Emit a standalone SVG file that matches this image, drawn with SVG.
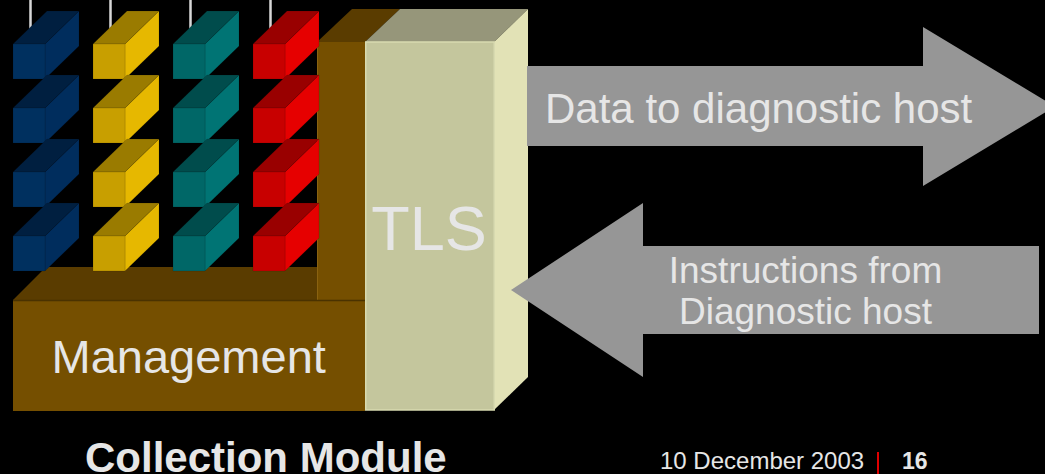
<svg xmlns="http://www.w3.org/2000/svg" xmlns:xlink="http://www.w3.org/1999/xlink" width="1045" height="474" viewBox="0 0 1045 474">
  <style>
    text { font-family: "Liberation Sans", Arial, sans-serif; fill: #E6E6E6; }
    .face { stroke: #000; stroke-opacity: 0.12; stroke-width: 1; stroke-linejoin: round; }
    .blue-front { fill: #00305F; } .blue-top { fill: #001F40; } .blue-side { fill: #002D5D; }
    .yel-front { fill: #C89F00; } .yel-top { fill: #9A7B00; } .yel-side { fill: #E6B800; }
    .teal-front { fill: #006767; } .teal-top { fill: #004C4C; } .teal-side { fill: #007474; }
    .red-front { fill: #C80000; } .red-top { fill: #990000; } .red-side { fill: #E60000; }
    .brown-front { fill: #754F00; } .brown-top { fill: #5A3C00; }
    .tls-front { fill: #C4C69D; stroke: #D8DAB0; stroke-width: 1.5; }
    .tls-top { fill: #96967A; } .tls-side { fill: #E2E2B6; }
    .wire { stroke: #D8D8D8; stroke-width: 2.5; }
    .arrow { fill: #969696; }
  </style>
  <defs>
    <!-- one small slot box, anchored at its front top-left corner -->
    <path id="bx-front" d="M0 0H32V35H0Z"/>
    <path id="bx-top" d="M0 0L34 -33H66L32 0Z"/>
    <path id="bx-side" d="M32 0L66 -33V2L32 35Z"/>
  </defs>

  <rect width="1045" height="474" fill="#000"/>

  <!-- Management base and pillar -->
  <g id="management">
    <polygon class="brown-top" points="13,300 46,267 317,267 317,300"/>
    <polygon class="brown-top" points="317,42 365,42 400,9 352,9"/>
    <rect class="brown-front" x="317" y="42" width="48" height="258"/>
    <line x1="317.5" y1="42" x2="317.5" y2="300" stroke="#8A6210" stroke-width="1"/>
    <rect class="brown-front" x="13" y="300" width="352" height="111"/>
    <line x1="13" y1="300.5" x2="365" y2="300.5" stroke="#4A3200" stroke-width="1.5"/>
    <text x="51.5" y="373" font-size="47">Management</text>
  </g>

  <!-- slot boxes: four columns by four rows -->
  <g id="slots">
    <g id="col-blue">
      <line class="wire" x1="30.5" y1="0" x2="30.5" y2="45"/>
      <g id="blue-1" transform="translate(13,44)"><use href="#bx-top" class="face blue-top"/><use href="#bx-side" class="face blue-side"/><use href="#bx-front" class="face blue-front"/></g>
      <g id="blue-2" transform="translate(13,108)"><use href="#bx-top" class="face blue-top"/><use href="#bx-side" class="face blue-side"/><use href="#bx-front" class="face blue-front"/></g>
      <g id="blue-3" transform="translate(13,172)"><use href="#bx-top" class="face blue-top"/><use href="#bx-side" class="face blue-side"/><use href="#bx-front" class="face blue-front"/></g>
      <g id="blue-4" transform="translate(13,236)"><use href="#bx-top" class="face blue-top"/><use href="#bx-side" class="face blue-side"/><use href="#bx-front" class="face blue-front"/></g>
    </g>
    <g id="col-yellow">
      <line class="wire" x1="110.5" y1="0" x2="110.5" y2="45"/>
      <g id="yellow-1" transform="translate(93,44)"><use href="#bx-top" class="face yel-top"/><use href="#bx-side" class="face yel-side"/><use href="#bx-front" class="face yel-front"/></g>
      <g id="yellow-2" transform="translate(93,108)"><use href="#bx-top" class="face yel-top"/><use href="#bx-side" class="face yel-side"/><use href="#bx-front" class="face yel-front"/></g>
      <g id="yellow-3" transform="translate(93,172)"><use href="#bx-top" class="face yel-top"/><use href="#bx-side" class="face yel-side"/><use href="#bx-front" class="face yel-front"/></g>
      <g id="yellow-4" transform="translate(93,236)"><use href="#bx-top" class="face yel-top"/><use href="#bx-side" class="face yel-side"/><use href="#bx-front" class="face yel-front"/></g>
    </g>
    <g id="col-teal">
      <line class="wire" x1="190.5" y1="0" x2="190.5" y2="45"/>
      <g id="teal-1" transform="translate(173,44)"><use href="#bx-top" class="face teal-top"/><use href="#bx-side" class="face teal-side"/><use href="#bx-front" class="face teal-front"/></g>
      <g id="teal-2" transform="translate(173,108)"><use href="#bx-top" class="face teal-top"/><use href="#bx-side" class="face teal-side"/><use href="#bx-front" class="face teal-front"/></g>
      <g id="teal-3" transform="translate(173,172)"><use href="#bx-top" class="face teal-top"/><use href="#bx-side" class="face teal-side"/><use href="#bx-front" class="face teal-front"/></g>
      <g id="teal-4" transform="translate(173,236)"><use href="#bx-top" class="face teal-top"/><use href="#bx-side" class="face teal-side"/><use href="#bx-front" class="face teal-front"/></g>
    </g>
    <g id="col-red">
      <line class="wire" x1="270.5" y1="0" x2="270.5" y2="45"/>
      <g id="red-1" transform="translate(253,44)"><use href="#bx-top" class="face red-top"/><use href="#bx-side" class="face red-side"/><use href="#bx-front" class="face red-front"/></g>
      <g id="red-2" transform="translate(253,108)"><use href="#bx-top" class="face red-top"/><use href="#bx-side" class="face red-side"/><use href="#bx-front" class="face red-front"/></g>
      <g id="red-3" transform="translate(253,172)"><use href="#bx-top" class="face red-top"/><use href="#bx-side" class="face red-side"/><use href="#bx-front" class="face red-front"/></g>
      <g id="red-4" transform="translate(253,236)"><use href="#bx-top" class="face red-top"/><use href="#bx-side" class="face red-side"/><use href="#bx-front" class="face red-front"/></g>
    </g>
  </g>

  <!-- TLS column -->
  <g id="tls">
    <polygon class="tls-top" points="365,42 494,42 528,9 400,9"/>
    <polygon class="tls-side" points="494,42 528,9 528,377 494,410"/>
    <rect class="tls-front" x="365.75" y="42" width="128.5" height="368"/>
    <text x="429" y="250" font-size="63" text-anchor="middle">TLS</text>
  </g>

  <!-- data flow arrows -->
  <g id="connectors">
    <g id="to-host">
      <polygon class="arrow" points="527,66 923,66 923,27 1055,106.5 923,186 923,146 527,146"/>
      <text x="545" y="122.5" font-size="42">Data to diagnostic host</text>
    </g>
    <g id="from-host">
      <polygon class="arrow" points="511,290 643,203 643,246 1039,246 1039,334 643,334 643,377"/>
      <text x="805.5" y="282.5" font-size="37" text-anchor="middle">Instructions from</text>
      <text x="805.5" y="323.5" font-size="37" text-anchor="middle">Diagnostic host</text>
    </g>
  </g>

  <!-- footer -->
  <g id="footer">
    <text x="85" y="471.5" font-size="42" font-weight="bold">Collection Module</text>
    <text x="660" y="469" font-size="24">10 December 2003</text>
    <rect x="877" y="452" width="2" height="22" fill="#E00000"/>
    <text x="902" y="469" font-size="23" font-weight="bold">16</text>
  </g>
</svg>
